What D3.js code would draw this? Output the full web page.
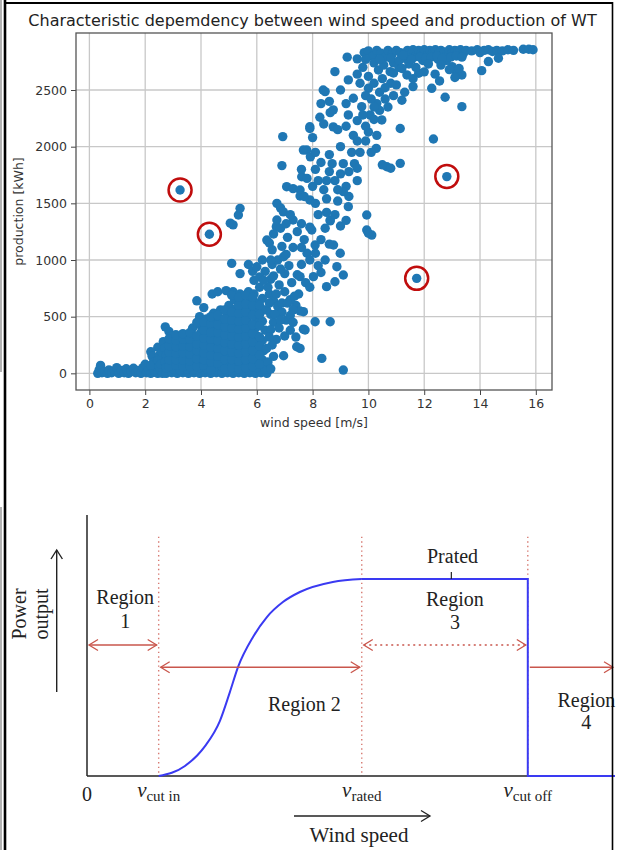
<!DOCTYPE html>
<html>
<head>
<meta charset="utf-8">
<script src="https://cdn.jsdelivr.net/npm/d3@7"></script>
<style>
  body { margin: 0; background: #fff; }
  svg { display: block; }
</style>
</head>
<body>
<svg id="chart" width="619" height="850"></svg>
<script>
// ---------- scatter data: [wind speed (m/s), production (kWh)]
const calmBand = [
  [0.3,0],[0.35,30],[0.4,70],[0.45,5],[0.55,15],[0.65,0],[0.7,30],[0.8,5],[0.9,20],[0.98,50],
  [1.05,0],[1.15,25],[1.25,5],[1.32,40],[1.4,0],[1.5,15],[1.58,45],[1.66,5],[1.75,25],[1.85,0],
  [1.92,50],[2.0,80],[2.05,5],[2.12,30],[2.2,0],[2.28,45],[2.35,10],[2.45,0],[2.55,25],[2.62,0]
];
const rampCloud = [
  [2.75,0],[2.95,5],[3.15,0],[3.35,5],[3.55,0],[3.75,5],[3.95,0],[4.15,5],[4.35,0],[4.55,5],
  [4.75,0],[4.95,5],[5.15,0],[5.35,5],[5.55,0],[5.75,5],[5.95,0],[6.15,5],[6.36,0],
  [2.2,190],[2.25,150],[2.3,100],[2.2,70],[2.45,230],[2.5,160],[2.45,110],[2.5,60],
  [2.6,130],[2.6,190],[2.55,80],
  [2.72,410],[2.85,370],[2.65,280],[2.7,220],[2.75,160],[2.7,100],[2.75,50],
  [2.95,330],[3.0,270],[2.95,210],[3.0,150],[2.95,90],[3.0,40],
  [3.2,320],[3.25,260],[3.2,200],[3.25,140],[3.2,80],[3.25,30],
  [3.45,330],[3.5,270],[3.45,210],[3.5,150],[3.45,90],[3.5,40],
  [3.7,400],[3.75,330],[3.7,270],[3.75,200],[3.7,140],[3.75,80],[3.7,30],
  [3.85,640],[3.95,500],[3.95,430],[4.0,360],[3.95,300],[4.0,230],[3.95,170],[4.0,110],[3.95,50],
  [4.1,580],[4.2,480],[4.2,410],[4.25,340],[4.2,280],[4.25,210],[4.2,150],[4.25,90],[4.2,40],
  [4.4,700],[4.45,530],[4.5,450],[4.45,380],[4.5,310],[4.45,250],[4.5,180],[4.45,120],[4.5,60],
  [4.6,720],[4.7,560],[4.75,480],[4.7,400],[4.75,330],[4.7,260],[4.75,190],[4.7,130],[4.75,60],
  [4.9,730],[5.0,600],[4.95,520],[5.0,440],[4.95,370],[5.0,300],[4.95,230],[5.0,160],[4.95,90],[5.0,30],
  [5.15,720],[5.2,650],[5.25,570],[5.2,500],[5.25,430],[5.2,360],[5.25,290],[5.2,220],[5.25,150],[5.2,80],
  [5.4,700],[5.45,630],[5.5,560],[5.45,490],[5.5,420],[5.45,350],[5.5,280],[5.45,210],[5.5,140],[5.45,70],
  [5.7,720],[5.75,650],[5.7,580],[5.75,510],[5.7,440],[5.75,370],[5.7,300],[5.75,230],[5.7,160],[5.75,90],[5.7,30],
  [5.9,700],[6.0,620],[5.95,550],[6.0,480],[5.95,400],[6.0,330],[5.95,260],[6.0,190],[5.95,120],[6.0,50],
  [6.2,660],[6.25,560],[6.2,460],[6.3,380],[6.2,290],[6.25,200],[6.2,120],[6.3,40]
];
// the solid core of the ramp, in between the columns above
const rampCore = [
  [2.85,60],[2.85,120],[2.85,185],[2.85,245],[2.85,305],
  [3.1,70],[3.1,120],[3.1,175],[3.1,235],[3.1,290],[3.1,340],
  [3.35,60],[3.35,115],[3.35,180],[3.35,240],[3.35,300],[3.35,350],
  [3.6,60],[3.6,110],[3.6,170],[3.6,235],[3.6,300],[3.6,360],
  [3.85,60],[3.85,130],[3.85,200],[3.85,260],[3.85,330],[3.85,450],
  [4.1,70],[4.1,120],[4.1,180],[4.1,250],[4.1,310],[4.1,380],[4.1,450],
  [4.35,30],[4.35,100],[4.35,160],[4.35,230],[4.35,300],[4.35,360],[4.35,440],[4.35,500],
  [4.6,90],[4.6,150],[4.6,220],[4.6,290],[4.6,360],[4.6,430],[4.6,510],
  [4.85,40],[4.85,120],[4.85,200],[4.85,270],[4.85,340],[4.85,410],[4.85,480],[4.85,560],
  [5.1,50],[5.1,120],[5.1,190],[5.1,260],[5.1,330],[5.1,400],[5.1,470],[5.1,540],[5.1,690],
  [5.35,40],[5.35,110],[5.35,180],[5.35,250],[5.35,320],[5.35,390],[5.35,460],[5.35,530],[5.35,600],[5.35,670],
  [5.6,50],[5.6,120],[5.6,190],[5.6,260],[5.6,330],[5.6,400],[5.6,470],[5.6,540],[5.6,610],[5.6,690],
  [5.85,60],[5.85,130],[5.85,200],[5.85,280],[5.85,350],[5.85,430],[5.85,510],[5.85,600],[5.85,670],
  [6.1,80],[6.1,160],[6.1,240],[6.1,320],[6.1,420],[6.1,520],[6.1,600]
];
const midCloud = [
  [6.45,700],[6.6,640],[6.75,590],[6.5,520],[6.9,540],[7.05,470],[6.6,450],[6.8,400],[6.5,385],
  [7.2,510],[7.4,600],[7.55,550],[7.67,390],[7.73,382],[7.0,330],[6.7,300],[6.55,250],[7.43,235],
  [6.96,155],[7.55,220],[8.33,132],[9.1,29],[8.09,455],[8.63,455],[7.67,544],[7.2,650],[7.5,700],
  [7.0,720],[6.8,780],[6.5,830],[6.3,900],[6.55,960],[6.75,1000],[6.96,1029],[7.15,950],[7.3,1110],
  [7.45,870],[7.55,853],[7.75,800],[7.9,760],[8.03,853],[8.5,765],[8.8,808],[9.1,868],[8.87,941],
  [8.45,1000],[8.99,1060],[8.75,1132],[8.6,1140],[8.09,1132],[7.97,1265],[8.45,1280],[8.63,1345],
  [9.94,1265],[10.12,1220],[6.36,1176],[6.7,1294],[6.55,1090],[7.1,1200],[7.6,1320],[7.3,1353],
  [7.9,1290],[5.1,970],[5.4,880],[5.7,960],[5.85,900],[6.0,940],[6.1,850],[6.2,1000],[5.9,820],
  [6.1,760],[5.05,1325],[5.15,1310],[5.34,1397],[5.4,1456],[6.72,1500],[6.85,1460],[6.95,1425],
  [6.72,1353],[7.0,880],[7.25,800],[7.6,960],[7.8,1060],[8.2,950],[8.3,1180],[7.7,1180],
  [6.35,560],[6.45,620],[6.65,520],[6.7,700],[6.9,620],[6.85,470],[7.1,620],[7.3,560],[7.35,680],
  [6.4,760],[6.6,860],[6.85,920],[7.05,1050],[6.9,1120],[6.5,1000],[6.25,820],[6.45,1150],[6.6,1230],
  [6.85,1280],[7.05,1320],[7.2,1400],[7.45,1250],[7.6,1110],[7.9,1000],[8.1,1060],[8.3,890],
  [7.3,450],[6.45,320],[6.35,220],[6.6,150],[6.4,100],[6.5,40],[7.2,380],[7.4,320]
];
const upperCloud = [
  [6.93,2089],[6.9,1833],[7.07,1647],[7.3,1630],[7.55,1618],[7.55,1565],[7.9,1530],[7.79,1970],
  [7.9,2176],[7.61,1735],[7.6,1800],[7.8,1720],[8.0,1650],[8.2,1700],[8.4,1620],[8.6,1780],
  [8.8,1700],[9.0,1760],[9.2,1650],[7.7,1560],[8.1,1500],[8.5,1540],[8.9,1520],[9.3,1560],
  [8.3,1860],[8.7,1850],[9.6,1700],[8.63,1353],[9.28,1471],[9.94,1397],[10.0,1236],[9.1,1603],
  [9.5,1850],[9.6,1810],[10.66,1823],[10.5,1840],[10.8,1810],[11.14,1853],[10.28,1985],
  [11.14,2160],[12.33,2068],[12.75,2436],[13.35,2353],[12.27,2515],
  [7.9,2160],[8.0,2080],[8.26,2260],[8.4,2200],[8.63,2300],[8.74,2175],[9.28,2280],[9.46,2100],
  [10.0,2130],[10.48,2236],[7.67,1970],[7.92,1910],[8.1,1950],[8.6,1930],[9.0,2000],[9.4,1950],
  [8.38,2500],[8.6,2400],[8.74,2325],[9.46,2427],[9.76,2353],[10.06,2280],[10.0,2515],[9.2,2380],
  [9.9,2450],[8.8,2662],[9.28,2589],[8.45,2486],
  [9.8,2700],[10.0,2620],[10.2,2560],[10.4,2480],[10.6,2420],[10.3,2380],[10.1,2420],[10.5,2600],
  [10.8,2560],[11.0,2545],[11.38,2633],[11.6,2530],[10.36,2677],[10.78,2662],[11.8,2648],
  [10.7,2350],[10.9,2450],[11.2,2410],[10.4,2320],[10.2,2240],[9.7,2560],[9.9,2180],[10.3,2100],
  [8.2,1400],[8.5,1420],[8.8,1400],[9.0,1300],[9.2,1350],[8.1,1800],[8.5,1700],[8.9,1620],
  [9.1,1850],[9.3,1780],[9.7,1950],[9.9,2050],[10.1,1950],[9.6,2230],[9.8,2280],[10.2,2350],
  [10.6,2520],[10.9,2650],[11.1,2700],[11.3,2480],[8.3,2380],[9.0,2500],[9.6,2640],
  [8.9,2150],[9.2,2180],[9.6,2050]
];
const ratedBand = [
  [9.24,2790],[9.6,2775],[9.85,2830],[10.0,2845],[10.15,2800],[10.3,2850],[10.45,2825],[10.6,2790],
  [10.7,2850],[10.85,2815],[11.0,2850],[11.15,2830],[11.3,2780],[11.4,2850],[11.5,2815],[11.6,2855],
  [11.7,2795],[11.8,2850],[11.9,2825],[12.0,2855],[12.1,2805],[12.2,2850],[12.3,2830],[12.4,2855],
  [12.5,2815],[12.6,2850],[12.7,2835],[12.8,2800],[12.9,2855],[13.0,2830],[13.1,2850],[13.2,2840],
  [13.3,2855],[13.4,2820],[13.5,2850],[13.7,2845],[13.9,2855],[14.0,2830],[14.15,2850],[14.3,2855],
  [14.45,2840],[14.6,2850],[14.8,2845],[15.0,2855],[15.2,2850],[15.55,2860],[15.75,2860],[15.9,2855],
  [14.3,2751],[14.66,2780],[14.06,2671],[13.0,2706],[13.15,2660],[13.35,2633],[12.39,2640],[13.25,2690],
  [12.8,2760],[12.5,2770],[11.95,2760],[11.45,2730],[10.9,2740],[10.55,2720],[10.2,2740],[9.9,2770],
  [10.4,2770],[10.8,2780],[11.1,2760],[11.25,2810],[11.55,2770],[11.85,2790],[12.05,2780],
  [12.25,2790],[12.45,2800],[12.65,2780],[12.95,2790],[13.15,2800],[13.35,2790],[12.15,2730],
  [12.6,2720],[11.7,2700],[11.2,2690],[12.9,2680],[12.0,2660],[11.6,2600],[13.1,2610],[12.55,2580]
];
// circled points
const outliers = [[3.25,1618],[4.3,1227],[12.81,1736],[11.73,838]];

const xTicks = [0, 2, 4, 6, 8, 10, 12, 14, 16];
const yTicks = [0, 500, 1000, 1500, 2000, 2500];

// ---------- power curve schematic: wind in arbitrary units, power as share of rated
const speedMarks = [
  { v: 3.0, sub: 'cut in' },
  { v: 11.5, sub: 'rated' },
  { v: 18.45, sub: 'cut off' }
];
const rampCurve = [
  [3.0,0],[4.1,0.051],[4.94,0.152],[5.56,0.279],[5.98,0.426],[6.32,0.553],
  [6.95,0.706],[7.53,0.807],[8.2,0.883],[8.91,0.934],[10.29,0.985],[11.5,1]
];
const plateau = [[11.5,1],[18.45,1],[18.45,0],[22.1,0]];

const svg = d3.select('#chart');
svg.append('rect').attr('width', 619).attr('height', 850).attr('fill', '#fff');

// ================= top: scatter =================
const m = { left: 76, right: 552, top: 33, bottom: 390 };
const x = d3.scaleLinear().domain([-0.48, 16.58]).range([m.left, m.right]);
const y = d3.scaleLinear().domain([-147, 3003]).range([m.bottom, m.top]);

const upper = svg.append('g').attr('font-family', 'DejaVu Sans, sans-serif');

// grid
upper.append('g').selectAll('line').data(xTicks).join('line')
  .attr('x1', d => x(d)).attr('x2', d => x(d))
  .attr('y1', m.top).attr('y2', m.bottom)
  .attr('stroke', '#c8c8c8').attr('stroke-width', 1.3);
upper.append('g').selectAll('line').data(yTicks).join('line')
  .attr('x1', m.left).attr('x2', m.right)
  .attr('y1', d => y(d)).attr('y2', d => y(d))
  .attr('stroke', '#c8c8c8').attr('stroke-width', 1.3);

const points = [].concat(calmBand, rampCloud, rampCore, midCloud, upperCloud, ratedBand, outliers);
upper.append('g').selectAll('circle').data(points).join('circle')
  .attr('cx', d => x(d[0]))
  .attr('cy', d => y(d[1]))
  .attr('r', 4.7)
  .attr('fill', '#1f77b4');

// red rings around the odd ones
upper.append('g').selectAll('circle').data(outliers).join('circle')
  .attr('cx', d => x(d[0]))
  .attr('cy', d => y(d[1]))
  .attr('r', 11.5)
  .attr('fill', 'none')
  .attr('stroke', '#c00d0d')
  .attr('stroke-width', 2.5);

// axes
const xAxis = upper.append('g')
  .attr('transform', `translate(0,${m.bottom})`)
  .call(d3.axisBottom(x).tickValues(xTicks).tickSize(5).tickPadding(4));
const yAxis = upper.append('g')
  .attr('transform', `translate(${m.left},0)`)
  .call(d3.axisLeft(y).tickValues(yTicks).tickFormat(d3.format('d')).tickSize(5).tickPadding(4));
[xAxis, yAxis].forEach(a => {
  a.select('.domain').remove();
  a.selectAll('line').attr('stroke', '#444');
  a.selectAll('text').attr('fill', '#333').attr('font-size', 12.5)
    .attr('font-family', 'DejaVu Sans, sans-serif');
});

upper.append('rect')
  .attr('x', m.left).attr('y', m.top)
  .attr('width', m.right - m.left).attr('height', m.bottom - m.top)
  .attr('fill', 'none').attr('stroke', '#555').attr('stroke-width', 1.3);

upper.append('text')
  .attr('x', 312.5).attr('y', 26)
  .attr('text-anchor', 'middle').attr('font-size', 16).attr('fill', '#222')
  .text('Characteristic depemdency between wind speed and production of WT');
upper.append('text')
  .attr('x', (m.left + m.right) / 2).attr('y', 427)
  .attr('text-anchor', 'middle').attr('font-size', 12.5).attr('fill', '#333')
  .text('wind speed [m/s]');
upper.append('text')
  .attr('transform', `translate(23,${(m.top + m.bottom) / 2}) rotate(-90)`)
  .attr('text-anchor', 'middle').attr('font-size', 12.5).attr('fill', '#333')
  .text('production [kWh]');

// ================= bottom: power curve schematic =================
const px = d3.scaleLinear().domain([0, 22.1]).range([87, 615]);
const py = d3.scaleLinear().domain([0, 1]).range([776, 579]);
const red = '#c9564c';
const serif = 'Liberation Serif, Times New Roman, serif';
const bot = svg.append('g').attr('font-family', serif).attr('fill', '#222');

// dotted guides
bot.append('g').selectAll('line').data(speedMarks).join('line')
  .attr('x1', d => px(d.v)).attr('x2', d => px(d.v))
  .attr('y1', py(1.215)).attr('y2', py(0))
  .attr('stroke', '#d77a72').attr('stroke-width', 1.4)
  .attr('stroke-dasharray', '1.4,3.2');

// axes
bot.append('line')
  .attr('x1', px(0)).attr('x2', px(0)).attr('y1', py(1.325)).attr('y2', py(0))
  .attr('stroke', '#333').attr('stroke-width', 1.6);
bot.append('line')
  .attr('x1', px(0)).attr('x2', px(18.45)).attr('y1', py(0)).attr('y2', py(0))
  .attr('stroke', '#222').attr('stroke-width', 1.6);

// power curve
const blue = '#3a3af2';
bot.append('path')
  .attr('d', d3.line().x(d => px(d[0])).y(d => py(d[1])).curve(d3.curveMonotoneX)(rampCurve))
  .attr('fill', 'none').attr('stroke', blue).attr('stroke-width', 2);
bot.append('path')
  .attr('d', d3.line().x(d => px(d[0])).y(d => py(d[1]))(plateau))
  .attr('fill', 'none').attr('stroke', blue).attr('stroke-width', 2);

// arrows
function head(g, xTip, yTip, dir, color) {
  const l = 9, h = 5.5;
  g.append('path')
    .attr('d', `M${xTip - dir * l},${yTip - h}L${xTip},${yTip}L${xTip - dir * l},${yTip + h}`)
    .attr('fill', 'none').attr('stroke', color).attr('stroke-width', 1.3);
}
const regionArrows = [
  { from: 0, to: 3.0, p: 0.665, both: true, dash: null },
  { from: 3.0, to: 11.5, p: 0.552, both: true, dash: null },
  { from: 11.5, to: 18.45, p: 0.665, both: true, dash: '2,3.5' },
  { from: 18.45, to: 22.1, p: 0.552, both: false, dash: null }
];
regionArrows.forEach(a => {
  const x1 = px(a.from) + 2, x2 = px(a.to) - 2, yy = py(a.p);
  bot.append('line').attr('x1', x1).attr('x2', x2).attr('y1', yy).attr('y2', yy)
    .attr('stroke', red).attr('stroke-width', 1.3)
    .attr('stroke-dasharray', a.dash);
  head(bot, x2, yy, 1, red);
  if (a.both) head(bot, x1, yy, -1, red);
});

// region labels
const fs = 20;
function label(lines, cx, baseline, gap) {
  const t = bot.append('text').attr('text-anchor', 'middle').attr('font-size', fs);
  lines.forEach((s, i) => t.append('tspan').attr('x', cx).attr('y', baseline + i * gap).text(s));
}
label(['Region', '1'], px(1.6), 604, 24);
label(['Region', '3'], px(15.4), 606, 23);
label(['Region 2'], px(9.1), 711, 0);
label(['Region', '4'], px(20.9), 707, 22);
label(['Prated'], px(15.3), 563, 0);
bot.append('line')
  .attr('x1', px(15.25)).attr('x2', px(15.25)).attr('y1', py(1) - 7).attr('y2', py(1))
  .attr('stroke', '#222').attr('stroke-width', 1.2);

// speed tick labels
bot.append('text').attr('x', px(0)).attr('y', 801).attr('text-anchor', 'middle')
  .attr('font-size', fs).text('0');
speedMarks.forEach(d => {
  const t = bot.append('text').attr('x', px(d.v)).attr('y', 797).attr('text-anchor', 'middle');
  t.append('tspan').attr('font-style', 'italic').attr('font-size', 21).text('v');
  t.append('tspan').attr('font-size', 15).attr('dy', 4).text(d.sub);
});

// axis captions
bot.append('text').attr('x', 359).attr('y', 842).attr('text-anchor', 'middle')
  .attr('font-size', 21).text('Wind speed');
bot.append('line').attr('x1', 294).attr('x2', 430).attr('y1', 816).attr('y2', 816)
  .attr('stroke', '#222').attr('stroke-width', 1.4);
head(bot, 430, 816, 1, '#222');

const yl = bot.append('text').attr('transform', 'translate(0,614) rotate(-90)')
  .attr('text-anchor', 'middle').attr('font-size', fs);
yl.append('tspan').attr('x', 0).attr('y', 26).text('Power');
yl.append('tspan').attr('x', 0).attr('y', 48).text('output');
bot.append('line').attr('x1', 56.7).attr('x2', 56.7).attr('y1', 692).attr('y2', 550)
  .attr('stroke', '#222').attr('stroke-width', 1.4);
bot.append('path').attr('d', 'M51,559L56.7,550L62.4,559')
  .attr('fill', 'none').attr('stroke', '#222').attr('stroke-width', 1.4);

// ---------- frame of the composite
const frame = svg.append('g').attr('stroke', '#000');
frame.append('line').attr('x1', 5).attr('x2', 5).attr('y1', 0).attr('y2', 850).attr('stroke-width', 2.6);
frame.append('line').attr('x1', 5).attr('x2', 613).attr('y1', 3).attr('y2', 3).attr('stroke-width', 2);
frame.append('line').attr('x1', 612.5).attr('x2', 612.5).attr('y1', 2).attr('y2', 850).attr('stroke-width', 1.6);
frame.append('line').attr('x1', 1).attr('x2', 1).attr('y1', 0).attr('y2', 372).attr('stroke', '#999').attr('stroke-width', 1.5);
frame.append('line').attr('x1', 1).attr('x2', 1).attr('y1', 507).attr('y2', 850).attr('stroke', '#999').attr('stroke-width', 1.5);
</script>
</body>
</html>
